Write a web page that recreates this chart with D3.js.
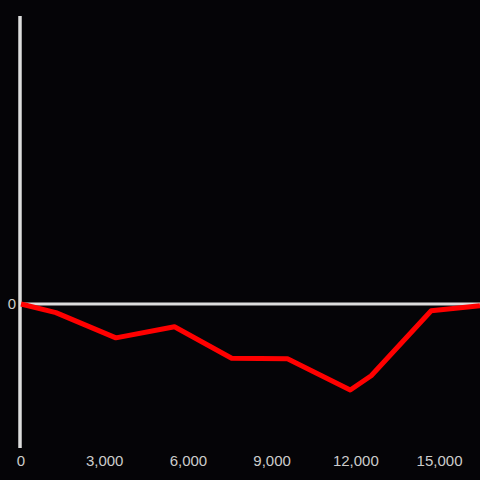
<!DOCTYPE html>
<html>
<head>
<meta charset="utf-8">
<script src="https://cdn.jsdelivr.net/npm/d3@7"></script>
<style>
  html, body { margin: 0; padding: 0; background: #050407; }
  svg { display: block; }
</style>
</head>
<body>
<svg id="chart" width="480" height="480"></svg>
<script>
// values
var xs = [0, 1250, 3400, 5500, 7550, 9550, 11800, 12550, 14700, 16450];
var ys = [0, -0.06, -0.235, -0.158, -0.377, -0.38, -0.597, -0.498, -0.047, -0.012];
var xTicks = [0, 3000, 6000, 9000, 12000, 15000];
var yTicks = [0];

var svg = d3.select("#chart");
var W = +svg.attr("width"), H = +svg.attr("height");
var margin = {left: 20, right: 0, top: 16, bottom: 32};

var x = d3.scaleLinear().domain([0, 16450]).range([21, 480]);
var y = d3.scaleLinear().domain([-1, 2]).range([H - margin.bottom, margin.top]);

svg.append("rect").attr("width", W).attr("height", H).attr("fill", "#050407");

// y axis line
svg.append("line")
    .attr("x1", margin.left).attr("x2", margin.left)
    .attr("y1", margin.top).attr("y2", H - margin.bottom)
    .attr("stroke", "#dddddd").attr("stroke-width", 3.5);

// zero line
svg.append("line")
    .attr("x1", margin.left).attr("x2", W)
    .attr("y1", y(0)).attr("y2", y(0))
    .attr("stroke", "#dddddd").attr("stroke-width", 3);

// tick labels
svg.selectAll(".xt").data(xTicks).enter().append("text")
    .attr("class", "xt")
    .attr("x", function(d){ return x(d); })
    .attr("y", 466)
    .attr("text-anchor", "middle")
    .attr("font-family", "Liberation Sans, Arial, sans-serif")
    .attr("font-size", "15px")
    .attr("fill", "#cccccc")
    .text(d3.format(","));

svg.selectAll(".yt").data(yTicks).enter().append("text")
    .attr("class", "yt")
    .attr("x", 16)
    .attr("y", function(d){ return y(d); })
    .attr("dy", "0.35em")
    .attr("text-anchor", "end")
    .attr("font-family", "Liberation Sans, Arial, sans-serif")
    .attr("font-size", "15px")
    .attr("fill", "#cccccc")
    .text(function(d){ return d; });

var line = d3.line()
    .x(function(d, i){ return x(xs[i]); })
    .y(function(d, i){ return y(ys[i]); });

svg.append("path")
    .datum(xs)
    .attr("d", line)
    .attr("fill", "none")
    .attr("stroke", "#ff0000")
    .attr("stroke-width", 5)
    .attr("stroke-linejoin", "round");
</script>
</body>
</html>
